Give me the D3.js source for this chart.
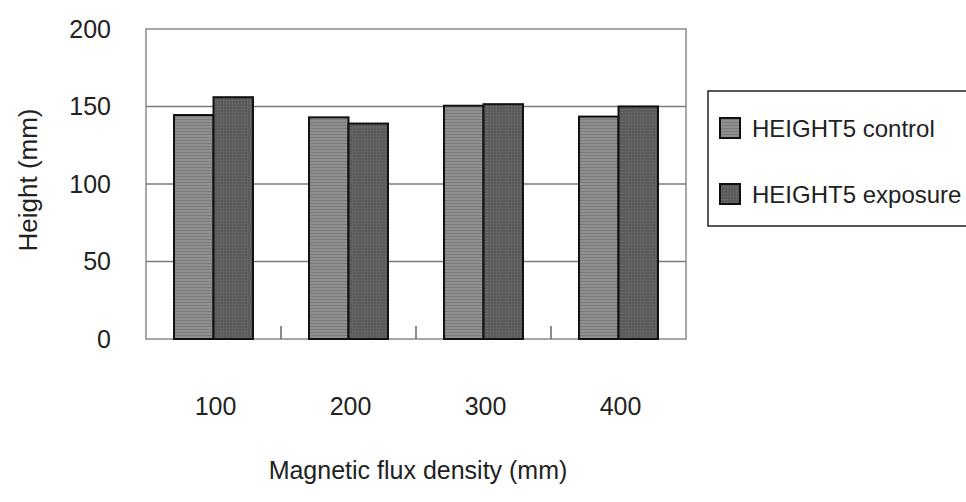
<!DOCTYPE html>
<html>
<head>
<meta charset="utf-8">
<script src="https://cdn.jsdelivr.net/npm/d3@7"></script>
<style>
  body { margin: 0; background: #fff; }
  svg { display: block; font-family: "Liberation Sans", Arial, sans-serif; }
</style>
</head>
<body>
<div id="chart"></div>
<script>
// data
const categories = ["100", "200", "300", "400"];
const seriesNames = ["HEIGHT5 control", "HEIGHT5 exposure"];
const controlValues = [144.5, 143, 150.5, 143.5];
const exposureValues = [156, 139, 151.5, 150];
const yTicks = [0, 50, 100, 150, 200];

const width = 966, height = 502;
const margin = {left: 146, right: 280, top: 29, bottom: 163};

const svg = d3.select("#chart").append("svg")
  .attr("width", width).attr("height", height);

// textures for the bars
const defs = svg.append("defs");
const pc = defs.append("pattern").attr("id", "pat-control")
  .attr("patternUnits", "userSpaceOnUse").attr("width", 4).attr("height", 3);
pc.append("rect").attr("width", 4).attr("height", 3).attr("fill", "#8f8f8f");
pc.append("rect").attr("y", 2).attr("width", 4).attr("height", 1).attr("fill", "#7c7c7c");

const pe = defs.append("pattern").attr("id", "pat-exposure")
  .attr("patternUnits", "userSpaceOnUse").attr("width", 3).attr("height", 3);
pe.append("rect").attr("width", 3).attr("height", 3).attr("fill", "#5c5c5c");
pe.append("rect").attr("x", 1).attr("y", 1).attr("width", 1).attr("height", 1).attr("fill", "#747474");

const fills = ["url(#pat-control)", "url(#pat-exposure)"];

const x = d3.scaleBand()
  .domain(categories)
  .range([margin.left, width - margin.right])
  .paddingInner(0.415)
  .paddingOuter(0.2075);

const xs = d3.scaleBand()
  .domain(seriesNames)
  .range([0, x.bandwidth()]);

const y = d3.scaleLinear()
  .domain([0, 200])
  .range([height - margin.bottom, margin.top]);

const plotL = margin.left, plotR = width - margin.right;
const plotT = margin.top, plotB = height - margin.bottom;

// gridlines
svg.append("g").selectAll("line")
  .data(yTicks.filter(d => d > 0 && d < 200))
  .enter().append("line")
  .attr("x1", plotL).attr("x2", plotR)
  .attr("y1", d => y(d)).attr("y2", d => y(d))
  .attr("stroke", "#7a7a7a").attr("stroke-width", 1.5);

// plot frame
svg.append("rect")
  .attr("x", plotL).attr("y", plotT)
  .attr("width", plotR - plotL).attr("height", plotB - plotT)
  .attr("fill", "none").attr("stroke", "#8a8a8a").attr("stroke-width", 1.5);

// category separator ticks on the bottom
const seps = categories.slice(1).map(c => x(c) - x.step() * x.paddingInner() / 2);
svg.append("g").selectAll("line")
  .data(seps).enter().append("line")
  .attr("x1", d => d).attr("x2", d => d)
  .attr("y1", plotB).attr("y2", plotB - 13)
  .attr("stroke", "#666").attr("stroke-width", 1.5);

// bars
const rows = categories.map((c, i) => ({cat: c, vals: [controlValues[i], exposureValues[i]]}));
const groups = svg.append("g").selectAll("g")
  .data(rows).enter().append("g")
  .attr("transform", d => `translate(${x(d.cat)},0)`);

groups.selectAll("rect")
  .data(d => d.vals.map((v, k) => ({name: seriesNames[k], v: v, k: k})))
  .enter().append("rect")
  .attr("x", d => xs(d.name))
  .attr("width", xs.bandwidth())
  .attr("y", d => y(d.v))
  .attr("height", d => y(0) - y(d.v))
  .attr("fill", d => fills[d.k])
  .attr("stroke", "#111").attr("stroke-width", 2);

// y axis labels
const yAxis = d3.axisLeft(y).tickValues(yTicks).tickSize(0).tickPadding(0);
const yg = svg.append("g").attr("transform", `translate(111,0)`).call(yAxis);
yg.select(".domain").remove();
yg.selectAll("text").attr("font-size", 25).attr("fill", "#222")
  .attr("font-family", "Liberation Sans, Arial, sans-serif");

// x axis labels
const xAxis = d3.axisBottom(x).tickSize(0).tickPadding(0);
const xg = svg.append("g").attr("transform", `translate(2,397)`).call(xAxis);
xg.select(".domain").remove();
xg.selectAll("text").attr("font-size", 25).attr("fill", "#222")
  .attr("font-family", "Liberation Sans, Arial, sans-serif");

// axis titles
svg.append("text")
  .attr("x", 418).attr("y", 479)
  .attr("text-anchor", "middle")
  .attr("font-size", 25).attr("fill", "#222")
  .text("Magnetic flux density (mm)");

svg.append("text")
  .attr("transform", "translate(37,180) rotate(-90)")
  .attr("text-anchor", "middle")
  .attr("font-size", 26).attr("fill", "#222")
  .text("Height (mm)");

// legend
const legend = svg.append("g");
legend.append("rect")
  .attr("x", 708).attr("y", 91)
  .attr("width", 280).attr("height", 135)
  .attr("fill", "#fff").attr("stroke", "#222").attr("stroke-width", 1.5);

const legY = [128, 194];
seriesNames.forEach((name, k) => {
  legend.append("rect")
    .attr("x", 720).attr("y", legY[k] - 10)
    .attr("width", 20).attr("height", 20)
    .attr("fill", fills[k]).attr("stroke", "#111").attr("stroke-width", 2);
  legend.append("text")
    .attr("x", 752).attr("y", legY[k] + 9)
    .attr("font-size", 24).attr("fill", "#222")
    .text(name);
});
</script>
</body>
</html>
